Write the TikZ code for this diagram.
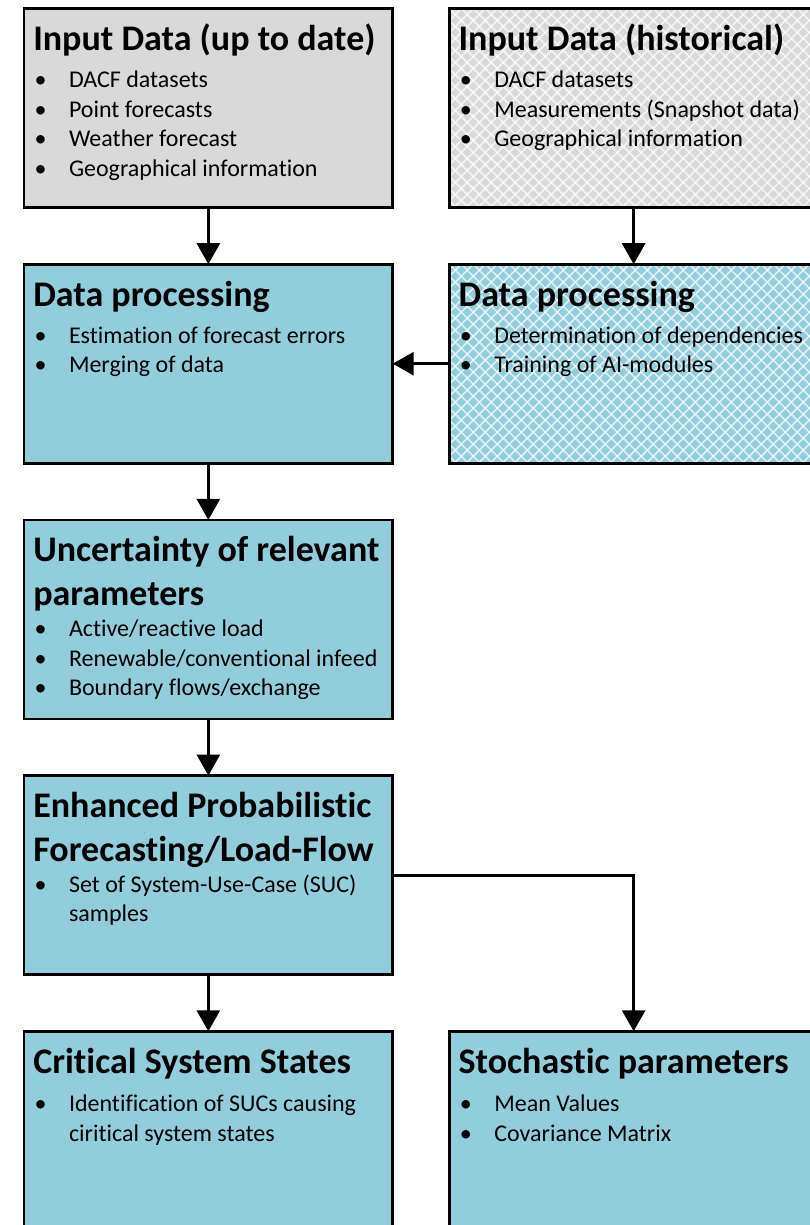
\documentclass[tikz,border=0pt]{standalone}
\usepackage{fontspec}
\setmainfont{Carlito}[Ligatures=NoCommon]
\usetikzlibrary{arrows.meta,calc}

\definecolor{aquafill}{HTML}{92CDDC}
\definecolor{greyfill}{HTML}{D9D9D9}

\tikzset{
  panel/.style={draw=black, line width=2.8pt, minimum width=368.7pt,
    minimum height=199pt, inner sep=0pt, outer sep=0pt, anchor=north west},
  hatchline/.style={white, line width=1.5pt, opacity=0.75},
  hatched/.style={path picture={
    \foreach \k in {0,...,52}{
      \draw[hatchline] ([xshift=\k*12pt-240pt]path picture bounding box.north west) -- ++(260pt,-260pt);
      \draw[hatchline] ([xshift=\k*12pt]path picture bounding box.north west) -- ++(-260pt,-260pt);
    }}},
  ttl/.style={font=\fontsize{36}{43.6}\selectfont\bfseries, inner sep=0pt,
    outer sep=0pt, anchor=base west},
  itemtext/.style={font=\fontsize{24}{29.7}\selectfont, inner sep=0pt,
    outer sep=0pt, anchor=base west},
  dot/.style={font=\fontsize{24}{29.7}\selectfont, inner sep=0pt,
    outer sep=0pt, anchor=base west},
  conn/.style={line width=2.8pt, -{Triangle[length=21pt,width=23pt]}},
}

% text lines placed relative to the top left corner of a panel
\newcommand\titleline[4]{\node[ttl] (#1) at ([xshift=9.3pt,yshift=-#3pt]#2.north west) {#4};}
\newcommand\itemline[4]{\node[itemtext] (#1) at ([xshift=45pt,yshift=-#3pt]#2.north west) {#4};}
\newcommand\itemdot[3]{\node[dot] (#1) at ([xshift=10.5pt,yshift=-#3pt]#2.north west) {\textbullet};}
\newcommand\bitem[4]{\itemdot{#1d}{#2}{#3}\itemline{#1}{#2}{#3}{#4}}

\begin{document}
\begin{tikzpicture}[x=1pt,y=-1pt]
\useasboundingbox (0,0) rectangle (810,1225);
\clip (0,0) rectangle (810,1225);

% panels
\node[panel, fill=greyfill] (inUp) at (24,8.5) {};
\node[panel, fill=greyfill, hatched] (inHist) at (449.3,8.5) {};
\node[panel, fill=aquafill] (procL) at (24,264.2) {};
\node[panel, fill=aquafill, hatched] (procR) at (449.3,264.2) {};
\node[panel, fill=aquafill] (uncert) at (24,519.9) {};
\node[panel, fill=aquafill] (epf) at (24,775.6) {};
\node[panel, fill=aquafill] (crit) at (24,1031.3) {};
\node[panel, fill=aquafill] (stoch) at (449.3,1031.3) {};

% Input Data (up to date)
\titleline{inUpT}{inUp}{42}{Input Data (up to date)}
\bitem{inUpA}{inUp}{79}{DACF datasets}
\bitem{inUpB}{inUp}{108.7}{Point forecasts}
\bitem{inUpC}{inUp}{138.4}{Weather forecast}
\bitem{inUpD}{inUp}{168.1}{Geographical information}

% Input Data (historical)
\titleline{inHistT}{inHist}{42}{Input Data (historical)}
\bitem{inHistA}{inHist}{79}{DACF datasets}
\bitem{inHistB}{inHist}{108.7}{Measurements (Snapshot data)}
\bitem{inHistC}{inHist}{138.4}{Geographical information}

% Data processing (left)
\titleline{procLT}{procL}{42}{Data processing}
\bitem{procLA}{procL}{79}{Estimation of forecast errors}
\bitem{procLB}{procL}{108.7}{Merging of data}

% Data processing (right)
\titleline{procRT}{procR}{42}{Data processing}
\bitem{procRA}{procR}{79}{Determination of dependencies}
\bitem{procRB}{procR}{108.7}{Training of AI-modules}

% Uncertainty of relevant parameters
\titleline{uncertT}{uncert}{42}{Uncertainty of relevant}
\titleline{uncertU}{uncert}{86}{parameters}
\bitem{uncertA}{uncert}{116.5}{Active/reactive load}
\bitem{uncertB}{uncert}{146.2}{Renewable/conventional infeed}
\bitem{uncertC}{uncert}{175.9}{Boundary flows/exchange}

% Enhanced Probabilistic Forecasting/Load-Flow
\titleline{epfT}{epf}{42}{Enhanced Probabilistic}
\titleline{epfU}{epf}{86}{Forecasting/Load-Flow}
\bitem{epfA}{epf}{116.8}{Set of System-Use-Case (SUC)}
\itemline{epfB}{epf}{146}{samples}

% Critical System States
\titleline{critT}{crit}{42}{Critical System States}
\bitem{critA}{crit}{80}{Identification of SUCs causing}
\itemline{critB}{crit}{109.7}{ciritical system states}

% Stochastic parameters
\titleline{stochT}{stoch}{42}{Stochastic parameters}
\bitem{stochA}{stoch}{80}{Mean Values}
\bitem{stochB}{stoch}{109.7}{Covariance Matrix}

% connectors
\draw[conn] (inUp.south) -- (procL.north);
\draw[conn] (inHist.south) -- (procR.north);
\draw[conn] (procR.west) -- (procL.east);
\draw[conn] (procL.south) -- (uncert.north);
\draw[conn] (uncert.south) -- (epf.north);
\draw[conn] (epf.south) -- (crit.north);
\draw[conn] (epf.east) -| (stoch.north);
\end{tikzpicture}
\end{document}
